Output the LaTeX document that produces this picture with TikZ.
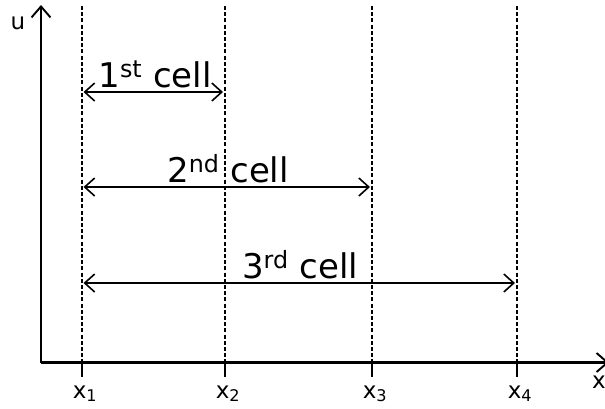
\documentclass[tikz,border=0pt]{standalone}
\usepackage{fontspec}
\setmainfont{DejaVu Sans}
\usetikzlibrary{arrows.meta}
\tikzset{
  axisline/.style={line width=2.2pt, -{Straight Barb[length=11pt,width=19pt,line width=1.9pt]}},
  guide/.style={line width=1.8pt, dash pattern=on 4pt off 2.2pt},
  tickline/.style={line width=2.2pt},
  span/.style={line width=1.6pt, {Straight Barb[length=10pt,width=18pt,line width=1.6pt]}-{Straight Barb[length=10pt,width=18pt,line width=1.6pt]}},
  biglabel/.style={font=\fontsize{34}{40}\selectfont, inner sep=0pt, anchor=base},
  smalllabel/.style={font=\fontsize{23}{27}\selectfont, inner sep=0pt, anchor=base},
}
\begin{document}
\begin{tikzpicture}[x=1pt,y=-1pt]
\useasboundingbox (0,0) rectangle (605,408);
% axes
\coordinate (O) at (41,362.5);
\coordinate (Ytop) at (41,5);
\coordinate (Xend) at (609,362.5);
\draw[axisline] (O) -- (Ytop);
\draw[axisline] (O) -- (Xend);
\node[smalllabel] (u) at (18,29) {u};
\node[smalllabel] (xl) at (599,388) {x};
% guides
\foreach \i/\xx in {1/82,2/225,3/372,4/517}{
  \coordinate (t\i) at (\xx,6);
  \coordinate (b\i) at (\xx,362.5);
  \coordinate (k\i) at (\xx,377);
  \draw[guide] (t\i) -- (b\i);
  \draw[tickline] (b\i) -- (k\i);
  \node[smalllabel] (lx\i) at (\xx+3,398) {x\textsubscript{\i}};
}
% spans
\coordinate (a1l) at (83.5,92);  \coordinate (a1r) at (223,92);
\coordinate (a2l) at (83.5,187); \coordinate (a2r) at (370,187);
\coordinate (a3l) at (83.5,283); \coordinate (a3r) at (515,283);
\draw[span] (a1l) -- (a1r);
\draw[span] (a2l) -- (a2r);
\draw[span] (a3l) -- (a3r);
\node[biglabel] (c1) at (155,87) {1\textsuperscript{st} cell};
\node[biglabel] (c2) at (228,182) {2\textsuperscript{nd} cell};
\node[biglabel] (c3) at (300,278) {3\textsuperscript{rd} cell};
\end{tikzpicture}
\end{document}
